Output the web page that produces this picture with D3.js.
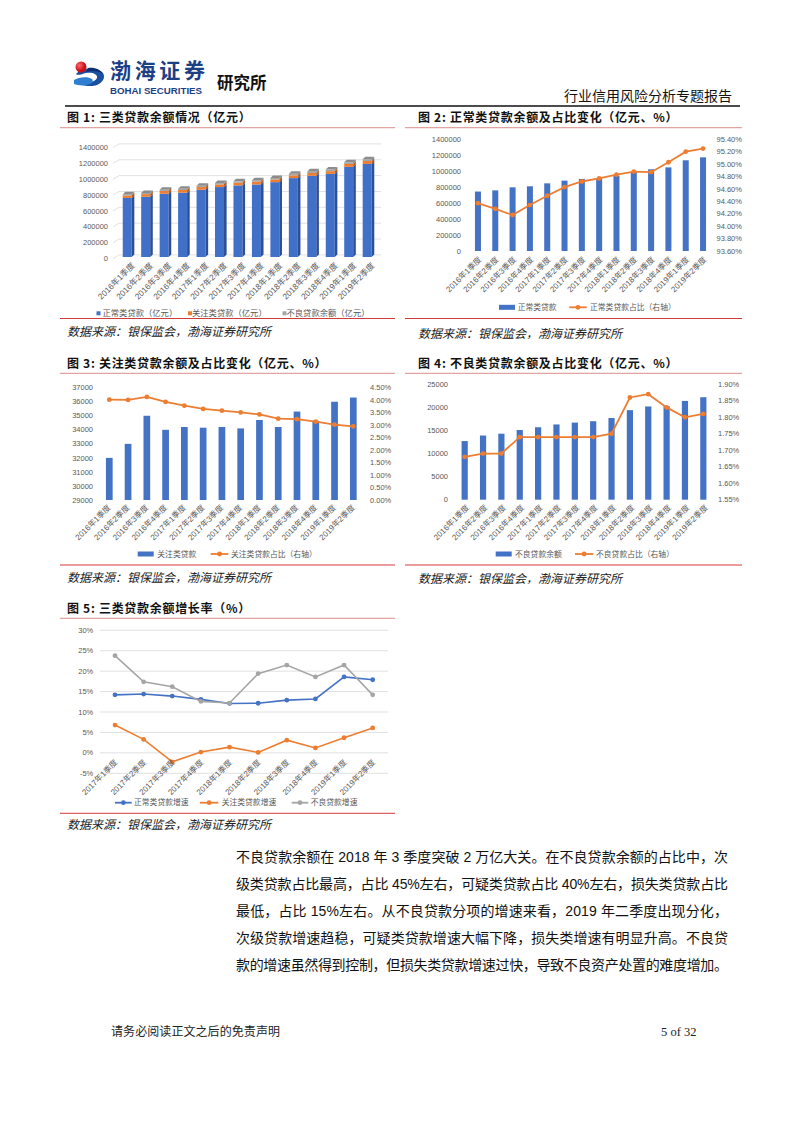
<!DOCTYPE html>
<html><head><meta charset="utf-8">
<script src="https://cdn.jsdelivr.net/npm/d3@7"></script>
<style>
html,body{margin:0;padding:0;background:#fff;}
svg{display:block;font-family:"Liberation Sans","Noto Sans CJK SC",sans-serif;}
</style></head><body>
<svg id="page" width="802" height="1133"></svg>
<script>
// ---------------- DATA ----------------
const quarters = ["2016年1季度","2016年2季度","2016年3季度","2016年4季度","2017年1季度","2017年2季度","2017年3季度","2017年4季度","2018年1季度","2018年2季度","2018年3季度","2018年4季度","2019年1季度","2019年2季度"];
const normalLoans = [745000, 760000, 798000, 811000, 848000, 882000, 903000, 915000, 944000, 995000, 1024000, 1048000, 1137000, 1174000];
const specialLoans = [32000, 33000, 35000, 34000, 34200, 34150, 34200, 34100, 34700, 34200, 35300, 34650, 36000, 36300];
const nplLoans = [12700, 13900, 14300, 15100, 15700, 16300, 16700, 17000, 17700, 19400, 20200, 20250, 21400, 22200];
const normalRatio = [94.37, 94.28, 94.18, 94.34, 94.49, 94.63, 94.72, 94.77, 94.83, 94.88, 94.87, 95.03, 95.20, 95.25];
const specialRatio = [4.02, 4.01, 4.13, 3.93, 3.78, 3.65, 3.58, 3.51, 3.43, 3.26, 3.24, 3.14, 3.02, 2.95];
const nplRatio = [1.68, 1.69, 1.69, 1.74, 1.74, 1.74, 1.74, 1.74, 1.75, 1.86, 1.87, 1.83, 1.80, 1.81];

const growthQuarters = ["2017年1季度","2017年2季度","2017年3季度","2017年4季度","2018年1季度","2018年2季度","2018年3季度","2018年4季度","2019年1季度","2019年2季度"];
const normalGrowth = [14.2, 14.4, 13.9, 13.1, 12.1, 12.15, 12.9, 13.2, 18.6, 17.9];
const specialGrowth = [6.8, 3.3, -2.2, 0.2, 1.4, 0.1, 3.1, 1.2, 3.7, 6.1];
const nplGrowth = [23.8, 17.4, 16.2, 12.6, 12.2, 19.4, 21.5, 18.6, 21.5, 14.2];

const ticks1 = [0, 200000, 400000, 600000, 800000, 1000000, 1200000, 1400000];
const ticks2R = [93.6, 93.8, 94.0, 94.2, 94.4, 94.6, 94.8, 95.0, 95.2, 95.4];
const ticks3L = [29000, 30000, 31000, 32000, 33000, 34000, 35000, 36000, 37000];
const ticks3R = [0, 0.5, 1.0, 1.5, 2.0, 2.5, 3.0, 3.5, 4.0, 4.5];
const ticks4L = [0, 5000, 10000, 15000, 20000, 25000];
const ticks4R = [1.55, 1.60, 1.65, 1.70, 1.75, 1.80, 1.85, 1.90];
const ticks5 = [-5, 0, 5, 10, 15, 20, 25, 30];

const titles = ["图 1: 三类贷款余额情况（亿元）","图 2: 正常类贷款余额及占比变化（亿元、%）","图 3: 关注类贷款余额及占比变化（亿元、%）","图 4: 不良类贷款余额及占比变化（亿元、%）","图 5: 三类贷款余额增长率（%）"];
const sourceText = "数据来源：银保监会，渤海证券研究所";
const bodyLines = [
 "不良贷款余额在 2018 年 3 季度突破 2 万亿大关。在不良贷款余额的占比中，次",
 "级类贷款占比最高，占比 45%左右，可疑类贷款占比 40%左右，损失类贷款占比",
 "最低，占比 15%左右。从不良贷款分项的增速来看，2019 年二季度出现分化，",
 "次级贷款增速趋稳，可疑类贷款增速大幅下降，损失类增速有明显升高。不良贷",
 "款的增速虽然得到控制，但损失类贷款增速过快，导致不良资产处置的难度增加。"
];

// ---------------- STYLE ----------------
const BLUE = "#4472C4", ORANGE = "#ED7D31", GRAY = "#A5A5A5";
const TICK = "#595959", CJK = "\"Noto Sans CJK SC\",sans-serif";

const svg = d3.select("#page");
svg.append("rect").attr("width", 802).attr("height", 1133).attr("fill", "#fff");

// ---------------- HEADER ----------------
const logo = svg.append("g");
const grad = svg.append("defs").append("radialGradient").attr("id","rg").attr("cx","35%").attr("cy","35%");
grad.append("stop").attr("offset","0%").attr("stop-color","#ff6b6b");
grad.append("stop").attr("offset","100%").attr("stop-color","#c8101a");
logo.append("path").attr("d","M76,74 C80,68 95,66 102,72 C106,76 104,82 97,85 C92,87 84,86 79,84 C86,84 95,82 97,78 C98,74 92,72 86,73 C82,74 78,76 76,74 Z").attr("fill","#1b4fa0");
logo.append("path").attr("d","M74,80 C78,77 88,76 92,79 C94,81 92,84 87,85 C82,86 77,85 74,84 Z").attr("fill","#2f7fd0");
logo.append("path").attr("d","M86,72 C92,70 100,71 103,74 C101,70 95,67 88,68 Z").attr("fill","#0d2f70");
logo.append("circle").attr("cx", 81).attr("cy", 67).attr("r", 5.5).attr("fill","url(#rg)");

svg.append("text").attr("x",110).attr("y",78).attr("font-family",CJK).attr("font-weight","bold")
  .attr("font-size",21).attr("fill","#1d3f86").attr("textLength",95).attr("lengthAdjust","spacing").text("渤海证券");
svg.append("text").attr("x",110).attr("y",93.5).attr("font-weight","bold")
  .attr("font-size",9.5).attr("fill","#1d3f86").attr("textLength",92).attr("lengthAdjust","spacingAndGlyphs").text("BOHAI SECURITIES");
svg.append("text").attr("x",217).attr("y",89).attr("font-family",CJK).attr("font-weight","bold")
  .attr("font-size",16.5).attr("fill","#111").text("研究所");
svg.append("text").attr("x",732).attr("y",100.5).attr("text-anchor","end").attr("font-family",CJK)
  .attr("font-size",14).attr("fill","#111").text("行业信用风险分析专题报告");
svg.append("line").attr("x1",65).attr("x2",740).attr("y1",106).attr("y2",106).attr("stroke","#111").attr("stroke-width",1.3);

// ---------------- PANEL FRAMES ----------------
function frame(x0, x1, tx, titleY, topY, botY, srcY, title) {
  svg.append("text").attr("x", tx).attr("y", titleY + 4.5).attr("font-family", CJK).attr("font-weight","bold")
    .attr("font-size", 12).attr("letter-spacing", 0.7).attr("fill","#111").text(title);
  svg.append("line").attr("x1",x0).attr("x2",x1).attr("y1",topY).attr("y2",topY).attr("stroke","#e2a3a3").attr("stroke-width",1.2);
  svg.append("line").attr("x1",x0).attr("x2",x1).attr("y1",botY).attr("y2",botY).attr("stroke","#d23a3a").attr("stroke-width",1);
  svg.append("text").attr("x", tx).attr("y", srcY + 4.5).attr("font-family", CJK).attr("font-style","italic")
    .attr("font-size", 12).attr("fill","#222").text(sourceText);
}
frame(60, 395, 67, 117, 127.7, 318.5, 331.5, titles[0]);
frame(405, 742, 418, 117, 127.7, 318.5, 333, titles[1]);
frame(60, 395, 67, 363, 373.3, 565, 577, titles[2]);
frame(405, 742, 418, 363, 373.3, 565, 578.5, titles[3]);
frame(60, 395, 67, 608, 618.3, 813.3, 824, titles[4]);

function xLabels(g, cats, xf, ax, ay, size) {
  g.selectAll(null).data(cats).join("text")
    .attr("transform", d => `translate(${xf(d) + ax},${ay}) rotate(-45)`)
    .attr("text-anchor","end").attr("dy","0.35em").attr("font-size", size).attr("fill", TICK).text(d => d);
}
function legendBox(g, x, y, w, h, color, label, tx, size) {
  g.append("rect").attr("x", x).attr("y", y - h / 2).attr("width", w).attr("height", h).attr("fill", color);
  g.append("text").attr("x", tx).attr("y", y).attr("dy","0.35em").attr("font-size", size).attr("fill", TICK).text(label);
}
function legendLine(g, x0, x1, y, color, label, tx, size) {
  g.append("line").attr("x1", x0).attr("x2", x1).attr("y1", y).attr("y2", y).attr("stroke", color).attr("stroke-width", 1.8);
  g.append("circle").attr("cx", (x0 + x1) / 2).attr("cy", y).attr("r", 2.4).attr("fill", color);
  g.append("text").attr("x", tx).attr("y", y).attr("dy","0.35em").attr("font-size", size).attr("fill", TICK).text(label);
}

// ---------------- CHART 1 (3D stacked) ----------------
{
  const g = svg.append("g");
  const y = d3.scaleLinear().domain([0, 1400000]).range([257, 146]);
  const x = d3.scaleBand().domain(quarters).range([118, 376.4]);
  const D = 2.6, bw = 9;
  ticks1.forEach(t => {
    const yy = y(t);
    g.append("path").attr("d", `M113,${yy + 1.5} L${113 + 6},${yy - D + 0.5} H381`).attr("fill","none").attr("stroke","#d9d9d9").attr("stroke-width",0.8);
    g.append("text").attr("x",108).attr("y",yy + 1.5).attr("dy","0.35em").attr("text-anchor","end")
      .attr("font-size",7.5).attr("fill",TICK).text(t);
  });
  const table = quarters.map((q, i) => ({q, normal: normalLoans[i], special: specialLoans[i], npl: nplLoans[i]}));
  const stack = d3.stack().keys(["normal","special","npl"])(table);
  const front = [ "#4070C8", ORANGE, GRAY ], side = [ "#2B4F98", "#B85A1A", "#7b7b7b" ];
  stack.forEach((layer, k) => {
    layer.forEach(d => {
      const x0 = x(d.data.q) + (x.bandwidth() - bw) / 2;
      const yb = y(d[0]), yt = y(d[1]);
      g.append("rect").attr("x", x0).attr("y", yt).attr("width", bw).attr("height", yb - yt).attr("fill", front[k]);
      g.append("path").attr("d", `M${x0 + bw},${yb} L${x0 + bw},${yt} L${x0 + bw + D},${yt - D} L${x0 + bw + D},${yb - D} Z`).attr("fill", side[k]);
      if (k === 2) {
        g.append("path").attr("d", `M${x0},${yt} L${x0 + D},${yt - D} L${x0 + bw + D},${yt - D} L${x0 + bw},${yt} Z`).attr("fill", "#8c8c8c");
      }
    });
  });
  xLabels(g, quarters, q => x(q) + x.bandwidth() / 2, 6, 264, 8.3);
  legendBox(g, 96.5, 313.3, 4, 4, BLUE, "正常类贷款（亿元）", 102.5, 8.3);
  legendBox(g, 188, 313.3, 4, 4, ORANGE, "关注类贷款（亿元）", 192, 8.3);
  legendBox(g, 282.5, 313.3, 4, 4, GRAY, "不良贷款余额（亿元）", 286.5, 8.3);
}

// ---------------- COMBO CHARTS 2-4 ----------------
function combo(o) {
  const g = svg.append("g");
  const yL = d3.scaleLinear().domain(o.lDom).range([o.yB, o.yT]);
  const yR = d3.scaleLinear().domain(o.rDom).range([o.yB, o.yT]);
  const x = d3.scaleBand().domain(quarters).range(o.xr);
  const cx = q => x(q) + x.bandwidth() / 2;
  o.lTicks.forEach(t => g.append("text").attr("x", o.lx).attr("y", yL(t)).attr("dy","0.35em").attr("text-anchor","end")
    .attr("font-size", 7.5).attr("fill", TICK).text(t));
  o.rTicks.forEach(t => g.append("text").attr("x", o.rx).attr("y", yR(t)).attr("dy","0.35em")
    .attr("font-size", 7.5).attr("fill", TICK).text(t.toFixed(2) + "%"));
  g.selectAll(null).data(quarters).join("rect")
    .attr("x", q => cx(q) - o.bw / 2).attr("width", o.bw)
    .attr("y", (q, i) => yL(o.bars[i])).attr("height", (q, i) => o.yB - yL(o.bars[i])).attr("fill", BLUE);
  const line = d3.line().x((v, i) => cx(quarters[i])).y(v => yR(v));
  g.append("path").attr("d", line(o.line)).attr("fill","none").attr("stroke", ORANGE).attr("stroke-width", 1.8);
  g.selectAll(null).data(o.line).join("circle").attr("cx", (v, i) => cx(quarters[i])).attr("cy", v => yR(v)).attr("r", 2.4).attr("fill", ORANGE);
  xLabels(g, quarters, cx, o.ldx, o.ly, 8);
  legendBox(g, o.lg[0], o.lgY, 16, 5, BLUE, o.names[0], o.lg[1], 7.8);
  legendLine(g, o.lg[2], o.lg[3], o.lgY, ORANGE, o.names[1], o.lg[4], 7.8);
}
combo({ lDom:[0,1400000], rDom:[93.6,95.4], yB:251, yT:139.3, xr:[469.3,711.7], bw:6,
  lTicks: ticks1, rTicks: ticks2R, lx:461, rx:716.5, bars: normalLoans, line: normalRatio,
  ldx:2, ly:258, lgY:307.3, lg:[499,517.7,569.3,586.7,590], names:["正常类贷款","正常类贷款占比（右轴）"] });
combo({ lDom:[29000,37000], rDom:[0,4.5], yB:500, yT:387.7, xr:[99.9,362.7], bw:6.7,
  lTicks: ticks3L, rTicks: ticks3R, lx:93, rx:370, bars: specialLoans, line: specialRatio,
  ldx:0, ly:506, lgY:554, lg:[137.7,157.3,210.7,228.3,231], names:["关注类贷款","关注类贷款占比（右轴）"] });
combo({ lDom:[0,25000], rDom:[1.55,1.90], yB:499.7, yT:384.3, xr:[455.5,712.5], bw:6.2,
  lTicks: ticks4L, rTicks: ticks4R, lx:448, rx:718, bars: nplLoans, line: nplRatio,
  ldx:3, ly:506, lgY:554, lg:[495.7,515,575,593.3,596], names:["不良贷款余额","不良贷款占比（右轴）"] });

// ---------------- CHART 5 ----------------
{
  const g = svg.append("g");
  const y = d3.scaleLinear().domain([-5, 30]).range([773.3, 630.3]);
  const x = d3.scalePoint().domain(growthQuarters).range([115, 372.7]);
  ticks5.forEach(t => {
    g.append("line").attr("x1",100).attr("x2",388).attr("y1",y(t)).attr("y2",y(t)).attr("stroke","#d9d9d9").attr("stroke-width",0.8);
    g.append("text").attr("x",93.3).attr("y",y(t)).attr("dy","0.35em").attr("text-anchor","end")
      .attr("font-size",7.5).attr("fill",TICK).text(t + "%");
  });
  const series = [[normalGrowth, BLUE], [specialGrowth, ORANGE], [nplGrowth, GRAY]];
  const line = d3.line().x((v, i) => x(growthQuarters[i])).y(v => y(v));
  series.forEach(([vals, c]) => {
    g.append("path").attr("d", line(vals)).attr("fill","none").attr("stroke", c).attr("stroke-width", 1.6);
    g.selectAll(null).data(vals).join("circle").attr("cx",(v,i)=>x(growthQuarters[i])).attr("cy",v=>y(v)).attr("r",2.4).attr("fill",c);
  });
  xLabels(g, growthQuarters, q => x(q), 1, y(0) + 8, 8);
  legendLine(g, 115, 131.7, 802.7, BLUE, "正常类贷款增速", 134, 7.8);
  legendLine(g, 200, 218.3, 802.7, ORANGE, "关注类贷款增速", 221.7, 7.8);
  legendLine(g, 291.7, 308.3, 802.7, GRAY, "不良贷款增速", 310.7, 7.8);
}

// ---------------- BODY TEXT ----------------
bodyLines.forEach((s, i) => {
  svg.append("text").attr("x", 236).attr("y", 862 + i * 27).attr("font-size", 14).attr("fill", "#111")
    .attr("textLength", 492).attr("lengthAdjust", "spacing").text(s);
});

// ---------------- FOOTER ----------------
svg.append("text").attr("x",111).attr("y",1036).attr("font-family",CJK).attr("font-size",12).attr("fill","#222")
  .attr("textLength",169).attr("lengthAdjust","spacing").text("请务必阅读正文之后的免责声明");
svg.append("text").attr("x",661).attr("y",1036).attr("font-family","\"Liberation Serif\",serif").attr("font-size",12.5).attr("fill","#222").text("5 of 32");
</script></body></html>
